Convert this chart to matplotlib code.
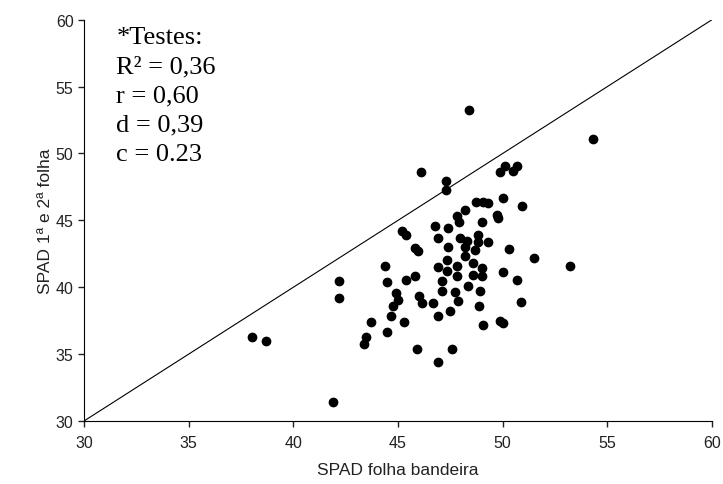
import matplotlib
matplotlib.use('Agg')
import matplotlib.pyplot as plt

# SPAD folha bandeira (x) vs SPAD 1a e 2a folha (y)
spad_bandeira = [
    38.04, 38.68, 41.90, 42.18, 42.18, 43.39, 43.49, 43.71, 44.38, 44.49,
    44.49, 44.68, 44.78, 44.89, 45.02, 45.18, 45.29, 45.38, 45.38, 45.81,
    45.97, 45.81, 45.89, 46.02, 46.13, 46.09, 46.69, 46.77, 46.90, 46.90,
    46.93, 46.93, 47.09, 47.09, 47.28, 47.28, 47.32, 47.32, 47.41, 47.41,
    47.49, 47.56, 47.73, 47.80, 47.80, 47.81, 47.88, 47.92, 47.96, 48.20,
    48.20, 48.20, 48.28, 48.36, 48.39, 48.56, 48.56, 48.70, 48.73, 49.08,
    49.32, 48.84, 48.84, 48.89, 48.92, 49.00, 49.00, 49.00, 49.08, 49.28,
    49.72, 49.80, 49.88, 50.12, 50.51, 50.70, 50.03, 50.91, 49.88, 50.03,
    50.03, 50.32, 50.70, 50.88, 51.51, 53.22, 54.32,
]
spad_folhas = [
    36.26, 35.96, 31.40, 40.49, 39.17, 35.75, 36.30, 37.38, 41.61, 40.37,
    36.68, 37.87, 38.57, 39.54, 39.07, 44.20, 37.38, 43.90, 40.56, 42.91,
    42.73, 40.81, 35.40, 39.32, 38.82, 48.59, 38.82, 44.59, 41.48, 37.87,
    43.68, 34.39, 40.49, 39.69, 47.96, 47.26, 42.05, 41.23, 44.40, 42.98,
    38.19, 35.35, 39.62, 41.60, 40.86, 45.34, 38.99, 44.90, 43.68, 45.78,
    42.98, 42.30, 43.48, 40.11, 53.27, 41.81, 40.91, 42.80, 46.39, 46.39,
    46.27, 43.90, 43.36, 38.57, 39.69, 44.90, 41.41, 40.86, 37.17, 43.36,
    45.40, 45.20, 48.59, 49.08, 48.71, 49.08, 46.64, 46.04, 37.50, 37.32,
    41.16, 42.86, 40.56, 38.87, 42.18, 41.61, 51.08,
]

stats_text = ["*Testes:", "R\u00b2 = 0,36", "r = 0,60", "d = 0,39", "c = 0.23"]

plt.rcParams['font.family'] = ['Liberation Sans', 'DejaVu Sans']

fig = plt.figure(figsize=(7.23, 4.85), dpi=100)
ax = fig.add_axes([0.1162, 0.1299, 0.8686, 0.8274])

# linha 1:1
ax.plot([30, 60], [30, 60], color='black', linewidth=0.8)
ax.scatter(spad_bandeira, spad_folhas, s=36, color='black', zorder=3)

ax.set_xlim(30, 60)
ax.set_ylim(30, 60)
ax.set_xticks(range(30, 61, 5))
ax.set_yticks(range(30, 61, 5))
ax.spines['top'].set_visible(False)
ax.spines['right'].set_visible(False)
ax.tick_params(direction='out', length=4, width=1, labelsize=11.5, colors='#222222')
ax.tick_params(axis='x', pad=6)

ax.set_xlabel("SPAD folha bandeira", fontsize=12.5, color='#222222', labelpad=9)
ax.set_ylabel("SPAD 1\u00aa e 2\u00aa folha", fontsize=12.5, color='#222222', labelpad=2)

ax.text(31.55, 59.5, "\n".join(stats_text), fontsize=19, family='Liberation Serif',
        va='top', ha='left', linespacing=1.42)

fig.savefig("out.png", dpi=100)
